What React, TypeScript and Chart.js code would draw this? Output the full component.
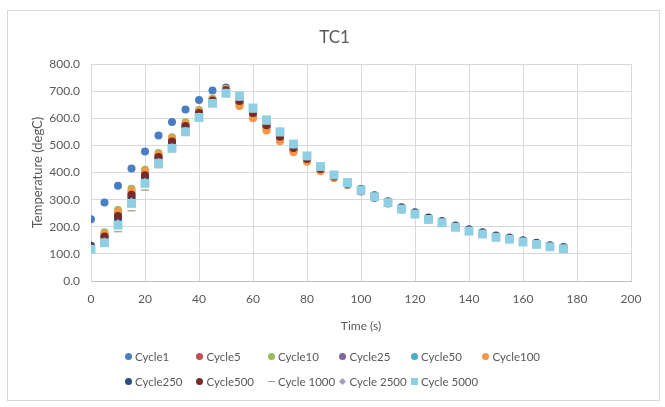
import React, { useEffect, useRef } from "react";
import { Chart, registerables } from "chart.js";

Chart.register(...registerables);

const TITLE = "TC1";
const X_TITLE = "Time (s)";
const Y_TITLE = "Temperature (degC)";

const TIME = [0, 5, 10, 15, 20, 25, 30, 35, 40, 45, 50, 55, 60, 65, 70, 75, 80, 85, 90, 95, 100, 105, 110, 115, 120, 125, 130, 135, 140, 145, 150, 155, 160, 165, 170, 175];

const CYCLE1 = [228, 289, 351, 415, 477, 536, 586, 632, 667, 702, 713, 676, 632, 588, 545, 500, 458, 418, 389, 361, 334, 310, 289, 266, 248, 229, 216, 199, 185, 174, 162, 155, 145, 136, 127, 120];
const CYCLE5 = [126, 168, 245, 324, 395, 461, 518, 575, 622, 667, 705, 656, 611, 567, 525, 484, 446, 410, 383, 357, 334, 311, 290, 268, 249, 231, 217, 201, 188, 176, 164, 156, 147, 138, 129, 122];
const CYCLE10 = [130, 180, 262, 340, 410, 472, 530, 585, 630, 672, 708, 649, 604, 559, 518, 478, 442, 407, 381, 356, 333, 310, 289, 267, 248, 230, 216, 200, 187, 175, 163, 155, 145, 137, 128, 121];
const CYCLE25 = [124, 161, 234, 313, 385, 453, 510, 568, 617, 664, 701, 660, 615, 571, 529, 487, 448, 412, 381, 354, 330, 306, 286, 264, 246, 227, 215, 199, 185, 174, 162, 155, 145, 136, 127, 120];
const CYCLE50 = [121, 153, 223, 302, 375, 445, 501, 561, 611, 660, 697, 675, 630, 586, 543, 499, 457, 419, 389, 361, 337, 313, 291, 268, 249, 230, 217, 200, 186, 175, 163, 156, 146, 137, 128, 121];
const CYCLE100 = [128, 174, 254, 332, 403, 466, 524, 580, 626, 669, 707, 645, 600, 555, 515, 475, 440, 405, 380, 355, 332, 309, 289, 267, 249, 231, 217, 201, 188, 176, 164, 156, 146, 138, 129, 122];
const CYCLE250 = [130, 157, 228, 308, 380, 449, 505, 564, 614, 662, 699, 671, 627, 582, 540, 496, 455, 417, 388, 361, 339, 316, 294, 272, 253, 234, 221, 205, 191, 180, 168, 160, 150, 141, 132, 125];
const CYCLE500 = [125, 164, 240, 318, 390, 457, 514, 571, 619, 665, 703, 664, 619, 574, 532, 490, 450, 413, 385, 359, 336, 312, 291, 268, 250, 231, 218, 202, 188, 177, 165, 157, 147, 138, 130, 123];
const CYCLE1000 = [112, 132, 182, 259, 335, 418, 478, 540, 597, 650, 690, 667, 623, 578, 536, 493, 453, 415, 387, 360, 334, 310, 289, 266, 248, 229, 216, 200, 186, 175, 163, 155, 145, 136, 127, 120];
const CYCLE2500 = [119, 147, 214, 294, 367, 440, 495, 555, 607, 658, 695, 678, 634, 590, 547, 502, 459, 420, 390, 362, 335, 311, 290, 266, 248, 228, 216, 199, 185, 174, 162, 155, 145, 136, 127, 120];
const CYCLE5000 = [117, 141, 206, 286, 360, 434, 489, 550, 603, 655, 692, 682, 638, 594, 550, 505, 461, 422, 391, 363, 335, 311, 289, 265, 247, 227, 215, 198, 184, 173, 161, 154, 144, 135, 126, 119];

const SERIES_NAMES = ["Cycle1", "Cycle5", "Cycle10", "Cycle25", "Cycle50", "Cycle100", "Cycle250", "Cycle500", "Cycle 1000", "Cycle 2500", "Cycle 5000"];
const SERIES_VALUES = [CYCLE1, CYCLE5, CYCLE10, CYCLE25, CYCLE50, CYCLE100, CYCLE250, CYCLE500, CYCLE1000, CYCLE2500, CYCLE5000];
const SERIES_COLORS = ["#4A7EC2", "#C0504D", "#9BBB59", "#8064A2", "#4BACC6", "#F79646", "#2C4D75", "#772C2A", "#B0AC84", "#A99BC8", "#8FCFE3"];
const SERIES_STYLES = ["circle", "circle", "circle", "circle", "circle", "circle", "circle", "circle", "line", "rectRot", "rect"];
const SERIES_RADII = [4, 4, 4, 4, 4, 4, 4, 4, 4, 4, 6.3];

const FONT = "Lato, 'Open Sans', sans-serif";
const TEXT = "#595959";

function LegendMarker({ style, color }: { style: string; color: string }) {
  if (style === "line") {
    return <span style={{ display: "inline-block", width: 7, height: 1.5, background: "#9a9a9a" }} />;
  }
  if (style === "rectRot") {
    return <span style={{ display: "inline-block", width: 5, height: 5, background: color, transform: "rotate(45deg)" }} />;
  }
  if (style === "rect") {
    return <span style={{ display: "inline-block", width: 7, height: 7, background: color }} />;
  }
  return <span style={{ display: "inline-block", width: 7, height: 7, borderRadius: "50%", background: color }} />;
}

export default function App() {
  const canvasRef = useRef<HTMLCanvasElement | null>(null);

  useEffect(() => {
    const canvas = canvasRef.current;
    if (!canvas) return;
    const datasets = SERIES_NAMES.map((name, i) => ({
      label: name,
      data: TIME.map((t, j) => ({ x: t, y: SERIES_VALUES[i][j] })),
      pointStyle: SERIES_STYLES[i] as any,
      pointRadius: SERIES_RADII[i],
      pointBackgroundColor: SERIES_COLORS[i],
      pointBorderColor: SERIES_COLORS[i],
      pointBorderWidth: SERIES_STYLES[i] === "line" ? 1.5 : 0,
      backgroundColor: SERIES_COLORS[i],
      borderColor: SERIES_COLORS[i],
      showLine: false,
      order: SERIES_NAMES.length - i,
    }));

    const chart = new Chart(canvas, {
      type: "scatter",
      data: { datasets },
      options: {
        animation: false,
        responsive: false,
        maintainAspectRatio: false,
        layout: { padding: { top: 53, left: 18, right: 28, bottom: 67 } },
        plugins: {
          legend: { display: false },
          title: { display: false },
          tooltip: { enabled: false },
        },
        scales: {
          x: {
            type: "linear",
            min: 0,
            max: 200,
            ticks: { stepSize: 20, color: TEXT, font: { family: FONT, size: 12 }, padding: 11, maxRotation: 0 },
            grid: { color: "#d9d9d9", drawTicks: false },
            border: { color: "#bfbfbf" },
            title: { display: true, text: X_TITLE, color: TEXT, font: { family: FONT, size: 12 }, padding: { top: 4, bottom: 0 } },
            afterFit: (scale: any) => { scale.height = 52; },
          },
          y: {
            type: "linear",
            min: 0,
            max: 800,
            ticks: { stepSize: 100, color: TEXT, font: { family: FONT, size: 12 }, padding: 11, callback: (v: any) => Number(v).toFixed(1) },
            grid: { color: "#d9d9d9", drawTicks: false },
            border: { color: "#d9d9d9" },
            title: { display: true, text: Y_TITLE, color: TEXT, font: { family: FONT, size: 13 }, padding: { top: 4, bottom: 0 } },
            afterFit: (scale: any) => { scale.width = 65; },
          },
        },
      },
    });
    return () => chart.destroy();
  }, []);

  return (
    <div style={{ position: "absolute", left: 7, top: 10, width: 653, height: 391, border: "1px solid #d9d9d9", boxSizing: "border-box", background: "#fff" }}>
      <canvas ref={canvasRef} width={651} height={389} style={{ position: "absolute", left: 0, top: 0, width: 651, height: 389 }} />
      <div style={{ position: "absolute", left: 0, width: 651, top: 15, textAlign: "center", fontFamily: FONT, fontSize: 17, color: TEXT, lineHeight: "22px" }}>
        <span style={{ position: "relative", left: 1 }}>{TITLE}</span>
      </div>
      <div style={{ position: "absolute", left: 116, top: 333, display: "grid", gridTemplateColumns: "repeat(6, 71.5px)", gridAutoRows: "25px", fontFamily: FONT, fontSize: 11.5, color: TEXT }}>
        {SERIES_NAMES.map((name, i) => (
          <div key={name} style={{ display: "flex", alignItems: "center", whiteSpace: "nowrap" }}>
            <span style={{ width: 8, display: "inline-flex", justifyContent: "center", alignItems: "center", marginRight: 3 }}>
              <LegendMarker style={SERIES_STYLES[i]} color={SERIES_COLORS[i]} />
            </span>
            <span>{name}</span>
          </div>
        ))}
      </div>
    </div>
  );
}
